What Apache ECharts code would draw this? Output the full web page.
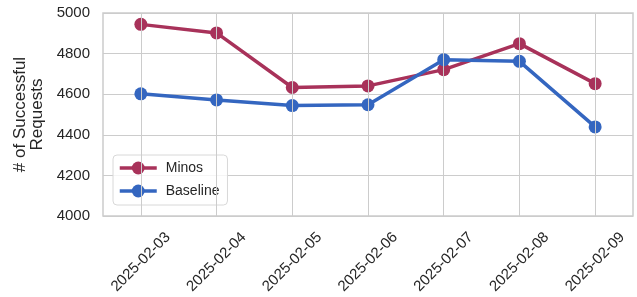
<!DOCTYPE html>
<html>
<head>
<meta charset="utf-8">
<script src="https://cdn.jsdelivr.net/npm/echarts@6/dist/echarts.min.js"></script>
<style>
  html, body { margin: 0; padding: 0; background: #fff; }
  #chart { width: 637px; height: 297px; }
</style>
</head>
<body>
<div id="chart"></div>
<script>
// 日期分类
const dates = ['2025-02-03', '2025-02-04', '2025-02-05', '2025-02-06', '2025-02-07', '2025-02-08', '2025-02-09']
// 两组数据
const minos = [4944, 4902, 4633, 4641, 4721, 4849, 4652]
const baseline = [4602, 4572, 4544, 4548, 4770, 4762, 4439]

const font = 'Liberation Sans'
const gridColor = '#cccccc'
const chart = echarts.init(document.getElementById('chart'))

chart.setOption({
  animation: false,
  grid: {
    left: 103, right: 4, top: 13, bottom: 81,
    show: true, borderColor: gridColor, borderWidth: 1.5
  },
  legend: {
    data: ['Minos', 'Baseline'],
    orient: 'vertical',
    left: 113, top: 155,
    itemWidth: 37, itemHeight: 16, itemGap: 9,
    padding: [6, 8, 7, 5],
    borderColor: '#d8d8d8', borderWidth: 1, borderRadius: 4,
    backgroundColor: 'rgba(255,255,255,0.8)',
    lineStyle: { width: 3.5 },
    textStyle: { fontFamily: font, fontSize: 14, color: '#262626', padding: [0, 0, 0, 4] }
  },
  xAxis: {
    type: 'category',
    boundaryGap: true,
    data: dates,
    axisLine: { show: false },
    axisTick: { show: false },
    splitLine: { show: false },
    axisLabel: {
      rotate: 45, interval: 0, margin: 46,
      align: 'center', verticalAlign: 'middle',
      fontFamily: font, fontSize: 15, color: '#262626'
    }
  },
  yAxis: {
    type: 'value',
    min: 4000, max: 5000, interval: 200,
    name: '# of Successful\nRequests',
    nameLocation: 'middle',
    nameRotate: 90,
    nameGap: 49,
    nameTextStyle: { fontFamily: font, fontSize: 17, color: '#262626', lineHeight: 17 },
    axisLine: { show: false },
    axisTick: { show: false },
    splitLine: { lineStyle: { color: gridColor, width: 1 } },
    axisLabel: { margin: 13, fontFamily: font, fontSize: 15, color: '#262626', formatter: v => String(v) }
  },
  series: [
    {
      // 竖向网格线，对齐每个日期
      type: 'line', data: [], silent: true, z: 1,
      markLine: {
        silent: true, symbol: 'none', animation: false,
        label: { show: false },
        lineStyle: { color: gridColor, width: 1, type: 'solid' },
        data: dates.map(d => ({ xAxis: d }))
      }
    },
    {
      name: 'Minos', type: 'line', data: minos, z: 3,
      symbol: 'circle', symbolSize: 13,
      lineStyle: { width: 3.5, color: '#a8325a' },
      itemStyle: { color: '#a8325a' }
    },
    {
      name: 'Baseline', type: 'line', data: baseline, z: 3,
      symbol: 'circle', symbolSize: 13,
      lineStyle: { width: 3.5, color: '#3466c0' },
      itemStyle: { color: '#3466c0' }
    }
  ]
})
</script>
</body>
</html>
